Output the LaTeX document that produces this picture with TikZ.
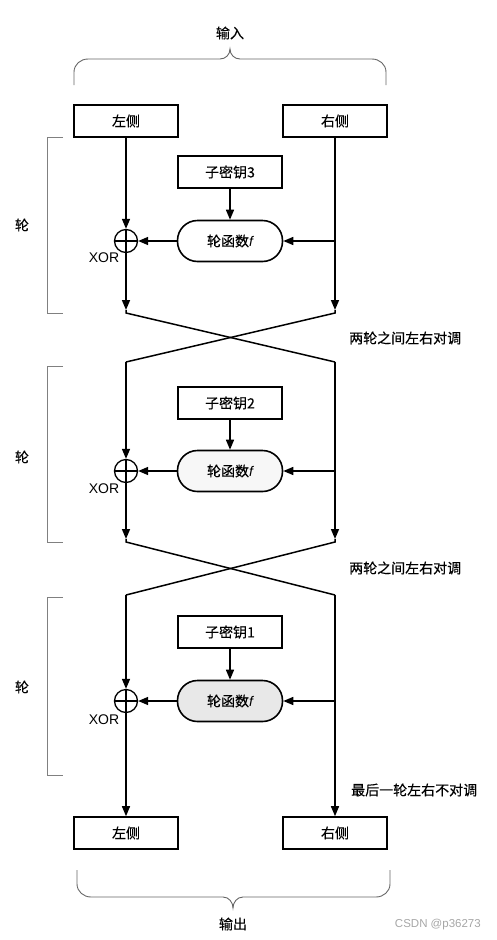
\documentclass[tikz,border=0pt]{standalone}
\usepackage{fontspec}
\setmainfont{Noto Sans CJK SC}[FakeBold=0.4]
\newfontfamily\lat{Liberation Sans}
\usetikzlibrary{arrows.meta}
\begin{document}
\begin{tikzpicture}[x=1pt,y=-1pt,
  txt/.style={inner sep=0pt, font=\fontsize{14}{16}\selectfont},
  box/.style={draw, line width=1.6pt, minimum width=104pt, minimum height=32pt, inner sep=0pt, font=\fontsize{14}{16}\selectfont},
  fbox/.style={draw, line width=1.6pt, minimum width=105pt, minimum height=41pt, rounded corners=20pt, inner sep=0pt, font=\fontsize{14}{16}\selectfont},
  xor/.style={circle, draw, line width=1.3pt, minimum size=23pt, inner sep=0pt,
    path picture={\draw[line width=1.3pt] (path picture bounding box.north) -- (path picture bounding box.south)
      (path picture bounding box.west) -- (path picture bounding box.east);}},
  xorlbl/.style={inner sep=0pt, font=\lat\fontsize{14}{16}\selectfont},
  arr/.style={line width=1.5pt, -{Triangle[length=10pt,width=8pt]}},
  ln/.style={line width=1.5pt},
  brk/.style={draw=gray, line width=0.8pt},
  brace/.style={draw=gray!80!black, line width=0.9pt}
]
\useasboundingbox (0,0) rectangle (496,940);

% input
\node[txt] (inTxt) at (230,33) {输入};
\draw[brace] (74,85) -- (74,72) to[out=90,in=180] (88,59) -- (220,59) to[out=0,in=-90] (230,49)
  to[out=-90,in=180] (240,59) -- (372,59) to[out=0,in=90] (386,72) -- (386,85);
\node[box] (inL) at (126,121) {左侧};
\node[box] (inR) at (335,121) {右侧};

% ---------- round 1 ----------
\draw[brk] (63,137) -- (47,137) -- (47,313) -- (63,313);
\node[txt] (r1) at (22,225) {轮};
\node[box] (k3) at (230,172) {子密钥3};
\node[fbox, fill=white] (f3) at (230,241) {轮函数{\lat\itshape f}};
\node[xor] (x1) at (126,241) {};
\node[xorlbl] (x1l) at (104,258) {XOR};
\coordinate (R1m) at (335,241);
\coordinate (L1a) at (126,310);
\coordinate (R1a) at (335,310);
\coordinate (L1b) at (126,313);
\coordinate (R1b) at (335,313);
\draw[arr] (inL.south) -- (x1.north);
\draw[arr] (k3.south) -- (f3.north);
\draw[arr] (f3.west) -- (x1.east);
\draw[arr] (R1m) -- (f3.east);
\draw[arr] (inR.south) -- (R1a);
\draw[arr] (x1.south) -- (L1a);

% swap 1
\coordinate (L2t) at (126,362);
\coordinate (R2t) at (335,362);
\draw[ln] (L1a) -- (L1b) -- (R2t);
\draw[ln] (R1a) -- (R1b) -- (L2t);
\node[txt, anchor=west] (sw1) at (349,338) {两轮之间左右对调};

% ---------- round 2 ----------
\draw[brk] (63,366) -- (47,366) -- (47,542) -- (63,542);
\node[txt] (r2) at (22,457) {轮};
\node[box] (k2) at (230,403) {子密钥2};
\node[fbox, fill=gray!6] (f2) at (230,471) {轮函数{\lat\itshape f}};
\node[xor] (x2) at (126,471) {};
\node[xorlbl] (x2l) at (104,489) {XOR};
\coordinate (R2m) at (335,471);
\coordinate (L2a) at (126,539);
\coordinate (R2a) at (335,539);
\coordinate (L2b) at (126,542);
\coordinate (R2b) at (335,542);
\draw[arr] (L2t) -- (x2.north);
\draw[arr] (k2.south) -- (f2.north);
\draw[arr] (f2.west) -- (x2.east);
\draw[arr] (R2m) -- (f2.east);
\draw[arr] (R2t) -- (R2a);
\draw[arr] (x2.south) -- (L2a);

% swap 2
\coordinate (L3t) at (126,595);
\coordinate (R3t) at (335,595);
\draw[ln] (L2a) -- (L2b) -- (R3t);
\draw[ln] (R2a) -- (R2b) -- (L3t);
\node[txt, anchor=west] (sw2) at (349,568) {两轮之间左右对调};

% ---------- round 3 ----------
\draw[brk] (63,597) -- (47,597) -- (47,775) -- (63,775);
\node[txt] (r3) at (22,687) {轮};
\node[box] (k1) at (230,632) {子密钥1};
\node[fbox, fill=gray!18] (f1) at (230,701) {轮函数{\lat\itshape f}};
\node[xor] (x3) at (126,701) {};
\node[xorlbl] (x3l) at (104,720) {XOR};
\coordinate (R3m) at (335,701);
\draw[arr] (L3t) -- (x3.north);
\draw[arr] (k1.south) -- (f1.north);
\draw[arr] (f1.west) -- (x3.east);
\draw[arr] (R3m) -- (f1.east);
\node[txt, anchor=west] (last) at (351,790) {最后一轮左右不对调};

% output
\node[box] (outL) at (126,833) {左侧};
\node[box] (outR) at (335,833) {右侧};
\draw[arr] (x3.south) -- (outL.north);
\draw[arr] (R3t) -- (outR.north);
\draw[brace] (77,870) -- (77,884) to[out=-90,in=180] (91,897) -- (223,897) to[out=0,in=90] (233,908)
  to[out=90,in=180] (243,897) -- (376,897) to[out=0,in=-90] (390,884) -- (390,870);
\node[txt] (outTxt) at (233,924) {输出};
\node[inner sep=0pt, anchor=east, text=gray!70, font=\lat\fontsize{11.5}{13}\selectfont] (wm) at (481,925) {CSDN @p36273};
\end{tikzpicture}
\end{document}
